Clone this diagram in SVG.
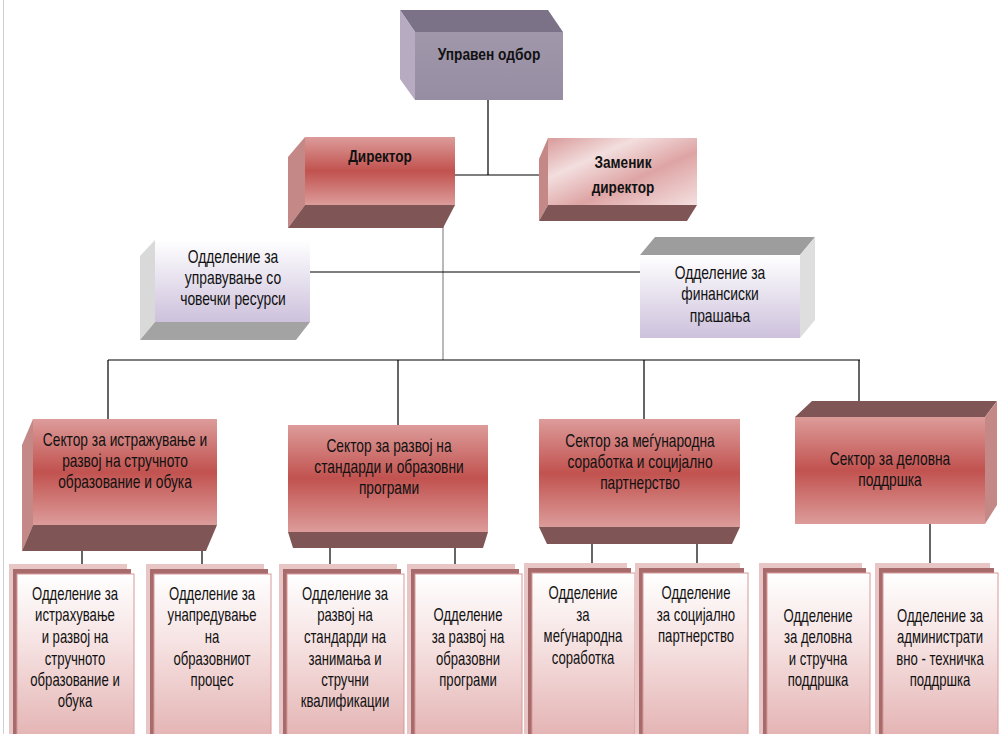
<svg xmlns="http://www.w3.org/2000/svg" width="1005" height="734" viewBox="0 0 1005 734">
<defs>
<linearGradient id="gRed" x1="0" y1="0" x2="0" y2="1">
<stop offset="0" stop-color="#dc9c9a"/><stop offset="0.5" stop-color="#c1524f"/><stop offset="1" stop-color="#dc9c9a"/>
</linearGradient>
<linearGradient id="gDep" x1="0" y1="0" x2="1" y2="1">
<stop offset="0" stop-color="#d99a9a"/><stop offset="0.3" stop-color="#f3dede"/><stop offset="0.6" stop-color="#dea4a4"/><stop offset="1" stop-color="#f4e0e0"/>
</linearGradient>
<linearGradient id="gLav" x1="0" y1="0" x2="0" y2="1">
<stop offset="0" stop-color="#ffffff"/><stop offset="1" stop-color="#cdc1dc"/>
</linearGradient>
<linearGradient id="gBoard" x1="0" y1="0" x2="0" y2="1">
<stop offset="0" stop-color="#a197ab"/><stop offset="1" stop-color="#978da2"/>
</linearGradient>
<linearGradient id="gDept" x1="0" y1="0" x2="0" y2="1">
<stop offset="0" stop-color="#ffffff"/><stop offset="0.4" stop-color="#f6e2e2"/><stop offset="1" stop-color="#e2aeae"/>
</linearGradient>
</defs>
<style>
text{font-family:"Liberation Sans",Arial,sans-serif;fill:#111;text-anchor:middle}
.b{font-weight:bold;font-size:16px}
.b2{font-weight:bold;font-size:17px}
.s{font-size:18px}
.d{font-size:18px}
.m{font-size:18px}
.ln{stroke:#000;stroke-width:1.2;fill:none}
.lg{stroke:#8a8a8a;stroke-width:1.2;fill:none}
.redF{fill:url(#gRed)}
.side{fill:#c48886}
.dark{fill:#7f5655}
.back{fill:#e8c6c6}
.strip{fill:#a86b6b}
.front{fill:url(#gDept);stroke:#d89a9a;stroke-width:1}
</style>
<rect width="1005" height="734" fill="#ffffff"/>
<line x1="3.5" y1="0" x2="3.5" y2="734" stroke="#d0d0d0" stroke-width="1"/>

<g id="connectors">
<path class="ln" d="M488 100V175M455 175H540"/>
<path class="lg" d="M443 205V360"/>
<path class="ln" d="M310 272H640"/>
<path class="ln" d="M108 360H860M108 360V419M398 360V425M644 360V419M859 360V417"/>
<path class="ln" d="M82 527V576M202 527V580"/>
<path class="ln" d="M330 534V580M455 534V580"/>
<path class="ln" d="M592 529V574M697 529V574"/>
<path class="ln" d="M930 524V573"/>
</g>

<g id="board">
<polygon points="400,10 548,10 563,32 415,32" fill="#7c7287"/>
<polygon points="400,10 415,32 415,100 400,79" fill="#b6abc1"/>
<rect x="415" y="32" width="148" height="68" fill="url(#gBoard)"/>
<text class="b" transform="matrix(0.86 0 0 1 489 0)" y="60">Управен одбор</text>
</g>

<g id="director">
<polygon points="305,137 288,157 288,228 305,205" class="side"/>
<polygon points="305,205 455,205 443,228 288,228" class="dark"/>
<rect x="305" y="137" width="150" height="68" class="redF"/>
<text class="b2" transform="matrix(0.8 0 0 1 380 0)" y="162">Директор</text>
</g>

<g id="deputy">
<polygon points="548,138 539,159 539,221 548,205" class="side"/>
<polygon points="548,205 697,205 687,221 539,221" class="dark"/>
<rect x="548" y="138" width="149" height="67" fill="url(#gDep)"/>
<text class="b2" transform="matrix(0.8 0 0 1 623 0)" y="168">Заменик</text>
<text class="b2" transform="matrix(0.8 0 0 1 623 0)" y="193">директор</text>
</g>

<g id="hr">
<polygon points="155,240 140,256 140,340 155,322" fill="#d9d9d9"/>
<polygon points="155,322 310,322 296,340 140,340" fill="#a3a3a3"/>
<rect x="155" y="240" width="155" height="82" fill="url(#gLav)"/>
<text class="m" transform="matrix(0.77 0 0 1 233 0)" y="263">Одделение за</text>
<text class="m" transform="matrix(0.77 0 0 1 233 0)" y="284">управување со</text>
<text class="m" transform="matrix(0.77 0 0 1 233 0)" y="305">човечки ресурси</text>
</g>

<g id="finance">
<polygon points="640,255 800,255 815,237 655,237" fill="#9d9d9d"/>
<polygon points="800,255 815,237 815,320 800,338" fill="#dedede"/>
<rect x="640" y="255" width="160" height="83" fill="url(#gLav)"/>
<text class="m" transform="matrix(0.77 0 0 1 720 0)" y="279">Одделение за</text>
<text class="m" transform="matrix(0.77 0 0 1 720 0)" y="300">финансиски</text>
<text class="m" transform="matrix(0.77 0 0 1 720 0)" y="322">прашања</text>
</g>

<g id="sector1">
<polygon points="33,419 22,445 22,551 33,525" class="side"/>
<polygon points="33,525 217,525 206,551 22,551" class="dark"/>
<rect x="33" y="419" width="184" height="106" class="redF"/>
<text class="s" transform="matrix(0.765 0 0 1 125 0)" y="446">Сектор за истражување и</text>
<text class="s" transform="matrix(0.765 0 0 1 125 0)" y="467">развој на стручното</text>
<text class="s" transform="matrix(0.765 0 0 1 125 0)" y="488">образование и обука</text>
</g>

<g id="sector2">
<polygon points="288,532 488,532 483,548 293,548" class="dark"/>
<rect x="288" y="425" width="200" height="107" class="redF"/>
<text class="s" transform="matrix(0.765 0 0 1 389 0)" y="452">Сектор за развој на</text>
<text class="s" transform="matrix(0.765 0 0 1 389 0)" y="473">стандарди и образовни</text>
<text class="s" transform="matrix(0.765 0 0 1 389 0)" y="494">програми</text>
</g>

<g id="sector3">
<polygon points="539,527 740,527 732,544 547,544" class="dark"/>
<rect x="539" y="419" width="201" height="108" class="redF"/>
<text class="s" transform="matrix(0.765 0 0 1 640 0)" y="447">Сектор за меѓународна</text>
<text class="s" transform="matrix(0.765 0 0 1 640 0)" y="468">соработка и социјално</text>
<text class="s" transform="matrix(0.765 0 0 1 640 0)" y="489">партнерство</text>
</g>

<g id="sector4">
<polygon points="795,417 985,417 997,401 812,401" class="dark"/>
<polygon points="985,417 997,401 997,505 985,524" class="side"/>
<rect x="795" y="417" width="190" height="107" class="redF"/>
<text class="s" transform="matrix(0.765 0 0 1 890 0)" y="465">Сектор за деловна</text>
<text class="s" transform="matrix(0.765 0 0 1 890 0)" y="486">поддршка</text>
</g>

<g id="dept1">
<rect x="9" y="564" width="118" height="175" class="back"/>
<rect x="13" y="569" width="118" height="175" class="strip"/>
<rect x="17" y="574" width="117" height="175" class="front"/>
<text class="d" transform="matrix(0.73 0 0 1 75 0)" y="600">Одделение за</text>
<text class="d" transform="matrix(0.73 0 0 1 75 0)" y="621">истрахување</text>
<text class="d" transform="matrix(0.73 0 0 1 75 0)" y="643">и развој на</text>
<text class="d" transform="matrix(0.73 0 0 1 75 0)" y="665">стручното</text>
<text class="d" transform="matrix(0.73 0 0 1 75 0)" y="686">образование и</text>
<text class="d" transform="matrix(0.73 0 0 1 75 0)" y="707">обука</text>
</g>

<g id="dept2">
<rect x="146" y="564" width="118" height="175" class="back"/>
<rect x="150" y="569" width="118" height="175" class="strip"/>
<rect x="154" y="574" width="117" height="175" class="front"/>
<text class="d" transform="matrix(0.73 0 0 1 212 0)" y="600">Одделение за</text>
<text class="d" transform="matrix(0.73 0 0 1 212 0)" y="621">унапредување</text>
<text class="d" transform="matrix(0.73 0 0 1 212 0)" y="643">на</text>
<text class="d" transform="matrix(0.73 0 0 1 212 0)" y="665">образовниот</text>
<text class="d" transform="matrix(0.73 0 0 1 212 0)" y="686">процес</text>
</g>

<g id="dept3">
<rect x="279" y="564" width="118" height="175" class="back"/>
<rect x="283" y="569" width="118" height="175" class="strip"/>
<rect x="287" y="574" width="117" height="175" class="front"/>
<text class="d" transform="matrix(0.73 0 0 1 345 0)" y="600">Одделение за</text>
<text class="d" transform="matrix(0.73 0 0 1 345 0)" y="621">развој на</text>
<text class="d" transform="matrix(0.73 0 0 1 345 0)" y="643">стандарди на</text>
<text class="d" transform="matrix(0.73 0 0 1 345 0)" y="665">занимања и</text>
<text class="d" transform="matrix(0.73 0 0 1 345 0)" y="686">стручни</text>
<text class="d" transform="matrix(0.73 0 0 1 345 0)" y="707">квалификации</text>
</g>

<g id="dept4">
<rect x="407" y="564" width="108" height="175" class="back"/>
<rect x="411" y="569" width="108" height="175" class="strip"/>
<rect x="415" y="574" width="107" height="175" class="front"/>
<text class="d" transform="matrix(0.73 0 0 1 468 0)" y="621">Одделение</text>
<text class="d" transform="matrix(0.73 0 0 1 468 0)" y="643">за развој на</text>
<text class="d" transform="matrix(0.73 0 0 1 468 0)" y="665">образовни</text>
<text class="d" transform="matrix(0.73 0 0 1 468 0)" y="686">програми</text>
</g>

<g id="dept5">
<rect x="524" y="563" width="103" height="175" class="back"/>
<rect x="528" y="568" width="103" height="175" class="strip"/>
<rect x="532" y="573" width="103" height="175" class="front"/>
<text class="d" transform="matrix(0.73 0 0 1 583 0)" y="599">Одделение</text>
<text class="d" transform="matrix(0.73 0 0 1 583 0)" y="621">за</text>
<text class="d" transform="matrix(0.73 0 0 1 583 0)" y="642">меѓународна</text>
<text class="d" transform="matrix(0.73 0 0 1 583 0)" y="664">соработка</text>
</g>

<g id="dept6">
<rect x="635" y="563" width="105" height="175" class="back"/>
<rect x="639" y="568" width="105" height="175" class="strip"/>
<rect x="643" y="573" width="105" height="175" class="front"/>
<text class="d" transform="matrix(0.73 0 0 1 696 0)" y="599">Одделение</text>
<text class="d" transform="matrix(0.73 0 0 1 696 0)" y="621">за социјално</text>
<text class="d" transform="matrix(0.73 0 0 1 696 0)" y="642">партнерство</text>
</g>

<g id="dept7">
<rect x="759" y="563" width="103" height="175" class="back"/>
<rect x="763" y="568" width="103" height="175" class="strip"/>
<rect x="767" y="573" width="103" height="175" class="front"/>
<text class="d" transform="matrix(0.73 0 0 1 818 0)" y="622">Одделение</text>
<text class="d" transform="matrix(0.73 0 0 1 818 0)" y="643">за деловна</text>
<text class="d" transform="matrix(0.73 0 0 1 818 0)" y="665">и стручна</text>
<text class="d" transform="matrix(0.73 0 0 1 818 0)" y="686">поддршка</text>
</g>

<g id="dept8">
<rect x="875" y="563" width="115" height="175" class="back"/>
<rect x="879" y="568" width="115" height="175" class="strip"/>
<rect x="883" y="573" width="115" height="175" class="front"/>
<text class="d" transform="matrix(0.73 0 0 1 940 0)" y="622">Одделение за</text>
<text class="d" transform="matrix(0.73 0 0 1 940 0)" y="643">администрати</text>
<text class="d" transform="matrix(0.73 0 0 1 940 0)" y="665">вно - техничка</text>
<text class="d" transform="matrix(0.73 0 0 1 940 0)" y="686">поддршка</text>
</g>
</svg>
